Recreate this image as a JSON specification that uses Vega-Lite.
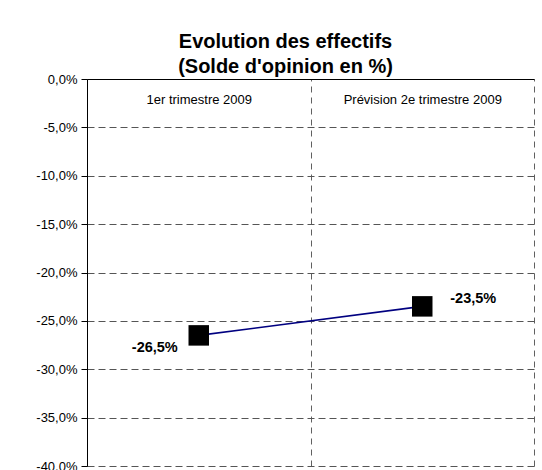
{
  "$schema": "https://vega.github.io/schema/vega-lite/v6.json",
  "width": 447,
  "height": 387,
  "autosize": {"type": "none"},
  "padding": {"left": 87, "top": 79, "right": 8, "bottom": 4},
  "background": "white",
  "title": {
    "text": ["Evolution des effectifs", "(Solde d'opinion en %)"],
    "font": "Liberation Sans",
    "fontSize": 20,
    "fontWeight": "bold",
    "color": "black",
    "anchor": "middle",
    "frame": "group",
    "dx": -25,
    "dy": 24,
    "lineHeight": 25,
    "baseline": "alphabetic",
    "offset": 4
  },
  "data": {
    "values": [
      {"periode": "1er trimestre 2009", "solde": -0.265},
      {"periode": "Prévision 2e trimestre 2009", "solde": -0.235}
    ]
  },
  "encoding": {
    "x": {
      "field": "periode",
      "type": "nominal",
      "sort": null,
      "scale": {"paddingInner": 0, "paddingOuter": 0},
      "axis": {
        "orient": "top",
        "title": null,
        "tickBand": "extent",
        "ticks": false,
        "labelAngle": 0,
        "labelBaseline": "top",
        "labelPadding": -14,
        "labelFont": "Liberation Sans",
        "labelFontSize": 13,
        "labelColor": "black",
        "domainColor": "black",
        "domainWidth": 1,
        "grid": true,
        "gridDash": [6, 5],
        "gridColor": "#606060",
        "gridWidth": 1
      }
    },
    "y": {
      "field": "solde",
      "type": "quantitative",
      "scale": {"domain": [-0.4, 0], "nice": false, "zero": false},
      "axis": {
        "title": null,
        "values": [0, -0.05, -0.1, -0.15, -0.2, -0.25, -0.3, -0.35, -0.4],
        "format": ".1%",
        "labelFont": "Liberation Sans",
        "labelFontSize": 13,
        "labelColor": "black",
        "labelPadding": 4,
        "tickSize": 6,
        "tickColor": "black",
        "domainColor": "black",
        "domainWidth": 1,
        "grid": true,
        "gridDash": [7, 4],
        "gridColor": "#555555",
        "gridWidth": 1
      }
    }
  },
  "layer": [
    {"mark": {"type": "line", "color": "#000080", "strokeWidth": 1.6}},
    {"mark": {"type": "point", "shape": "square", "filled": true, "color": "black", "size": 420, "opacity": 1}},
    {
      "transform": [{"filter": "datum.solde < -0.25"}],
      "mark": {"type": "text", "align": "right", "baseline": "middle", "dx": -21, "dy": 13, "font": "Liberation Sans", "fontSize": 14.5, "fontWeight": "bold", "color": "black"},
      "encoding": {"text": {"field": "solde", "type": "quantitative", "format": ".1%"}}
    },
    {
      "transform": [{"filter": "datum.solde > -0.25"}],
      "mark": {"type": "text", "align": "left", "baseline": "middle", "dx": 28, "dy": -7, "font": "Liberation Sans", "fontSize": 14.5, "fontWeight": "bold", "color": "black"},
      "encoding": {"text": {"field": "solde", "type": "quantitative", "format": ".1%"}}
    }
  ],
  "config": {
    "view": {"stroke": null},
    "locale": {
      "number": {"decimal": ",", "thousands": " ", "grouping": [3], "currency": ["", " €"], "minus": "-", "percent": "%"}
    }
  }
}
